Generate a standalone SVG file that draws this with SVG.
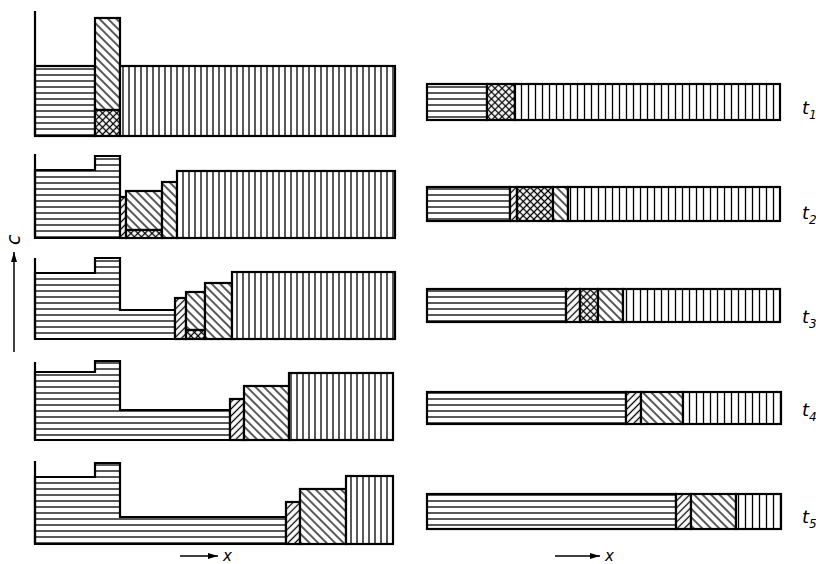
<svg xmlns="http://www.w3.org/2000/svg" width="816" height="564" viewBox="0 0 816 564">
<style>
.o{stroke:#000;stroke-width:2.2;stroke-linejoin:miter}
.h{fill:url(#hz)}.v{fill:url(#vt)}.w{fill:url(#vw)}.b{fill:url(#bs)}.f{fill:url(#fs)}.x{fill:url(#cx)}
.ax{stroke:#000;stroke-width:1.5;fill:none}
.lb{font-family:"DejaVu Sans",sans-serif;font-style:italic;fill:#000}
</style>
<defs>
<pattern id="hz" patternUnits="userSpaceOnUse" width="8" height="6"><rect width="8" height="6" fill="#fff"/><line x1="0" y1="3" x2="8" y2="3" stroke="#000" stroke-width="1.3"/></pattern>
<pattern id="vt" patternUnits="userSpaceOnUse" width="6" height="8"><rect width="6" height="8" fill="#fff"/><line x1="3" y1="0" x2="3" y2="8" stroke="#000" stroke-width="1.3"/></pattern>
<pattern id="vw" patternUnits="userSpaceOnUse" width="7" height="8"><rect width="7" height="8" fill="#fff"/><line x1="3.5" y1="0" x2="3.5" y2="8" stroke="#000" stroke-width="1.3"/></pattern>
<pattern id="bs" patternUnits="userSpaceOnUse" width="8" height="6" patternTransform="rotate(45)"><rect width="8" height="6" fill="#fff"/><line x1="0" y1="3" x2="8" y2="3" stroke="#000" stroke-width="1.3"/></pattern>
<pattern id="fs" patternUnits="userSpaceOnUse" width="8" height="5" patternTransform="rotate(-45)"><rect width="8" height="5" fill="#fff"/><line x1="0" y1="2.5" x2="8" y2="2.5" stroke="#000" stroke-width="1.3"/></pattern>
<pattern id="cx" patternUnits="userSpaceOnUse" width="5" height="5" patternTransform="rotate(45)"><rect width="5" height="5" fill="#fff"/><line x1="0" y1="2.5" x2="5" y2="2.5" stroke="#000" stroke-width="1.3"/><line x1="2.5" y1="0" x2="2.5" y2="5" stroke="#000" stroke-width="1.3"/></pattern>
<marker id="ar" viewBox="0 0 10 6" refX="10" refY="3" markerWidth="10" markerHeight="6" markerUnits="userSpaceOnUse" orient="auto"><path d="M0,0 L10,3 L0,6 Z" fill="#000"/></marker>
</defs>

<g id="panel1">
<rect class="o h" x="35" y="66" width="60" height="70"/>
<rect class="o b" x="95" y="18" width="25" height="92"/>
<rect class="o x" x="95" y="110" width="25" height="26"/>
<rect class="o v" x="120" y="66" width="275" height="70"/>
<line class="o" x1="35" y1="11" x2="35" y2="136"/>
</g>

<g id="panel2">
<polygon class="o h" points="35,238 35,170 95,170 95,156 120,156 120,238"/>
<rect class="o f" x="120" y="197" width="6" height="41"/>
<rect class="o b" x="126" y="191" width="36" height="39"/>
<rect class="o x" x="126" y="230" width="36" height="8"/>
<rect class="o b" x="162" y="182" width="15" height="56"/>
<rect class="o v" x="177" y="171" width="218" height="67"/>
<line class="o" x1="35" y1="154" x2="35" y2="238"/>
</g>

<g id="panel3">
<polygon class="o h" points="35,339 35,273 95,273 95,258 120,258 120,310 175,310 175,339"/>
<rect class="o f" x="175" y="298" width="11" height="41"/>
<rect class="o b" x="186" y="292" width="19" height="38"/>
<rect class="o x" x="186" y="330" width="19" height="9"/>
<rect class="o b" x="205" y="283" width="27" height="56"/>
<rect class="o v" x="232" y="272" width="163" height="67"/>
<line class="o" x1="35" y1="258" x2="35" y2="339"/>
</g>

<g id="panel4">
<polygon class="o h" points="35,440 35,372 95,372 95,361 120,361 120,410 230,410 230,440"/>
<rect class="o f" x="230" y="399" width="14" height="41"/>
<rect class="o b" x="244" y="386" width="45" height="54"/>
<rect class="o v" x="289" y="373" width="104" height="67"/>
<line class="o" x1="35" y1="362" x2="35" y2="440"/>
</g>

<g id="panel5">
<polygon class="o h" points="35,544 35,477 95,477 95,463 120,463 120,517 286,517 286,544"/>
<rect class="o f" x="286" y="502" width="14" height="42"/>
<rect class="o b" x="300" y="489" width="46" height="55"/>
<rect class="o v" x="346" y="476" width="47" height="68"/>
<line class="o" x1="35" y1="461" x2="35" y2="544"/>
</g>

<g id="bar1">
<rect class="o h" x="427" y="84" width="60" height="36"/>
<rect class="o x" x="487" y="84" width="28" height="36"/>
<rect class="o w" x="515" y="84" width="265" height="36"/>
</g>
<g id="bar2">
<rect class="o h" x="427" y="187" width="83" height="34"/>
<rect class="o f" x="510" y="187" width="7" height="34"/>
<rect class="o x" x="517" y="187" width="36" height="34"/>
<rect class="o b" x="553" y="187" width="15" height="34"/>
<rect class="o w" x="568" y="187" width="212" height="34"/>
</g>
<g id="bar3">
<rect class="o h" x="427" y="289" width="139" height="33"/>
<rect class="o f" x="566" y="289" width="14" height="33"/>
<rect class="o x" x="580" y="289" width="18" height="33"/>
<rect class="o b" x="598" y="289" width="25" height="33"/>
<rect class="o w" x="623" y="289" width="157" height="33"/>
</g>
<g id="bar4">
<rect class="o h" x="427" y="392" width="199" height="32"/>
<rect class="o f" x="626" y="392" width="15" height="32"/>
<rect class="o b" x="641" y="392" width="42" height="32"/>
<rect class="o w" x="683" y="392" width="98" height="32"/>
</g>
<g id="bar5">
<rect class="o h" x="427" y="494" width="249" height="35"/>
<rect class="o f" x="676" y="494" width="15" height="35"/>
<rect class="o b" x="691" y="494" width="45" height="35"/>
<rect class="o w" x="736" y="494" width="45" height="35"/>
</g>

<g id="labels">
<text class="lb" x="802" y="114" font-size="18">t<tspan font-size="12" dy="5">1</tspan></text>
<text class="lb" x="802" y="219" font-size="18">t<tspan font-size="12" dy="5">2</tspan></text>
<text class="lb" x="802" y="323" font-size="18">t<tspan font-size="12" dy="5">3</tspan></text>
<text class="lb" x="802" y="416" font-size="18">t<tspan font-size="12" dy="5">4</tspan></text>
<text class="lb" x="802" y="523" font-size="18">t<tspan font-size="12" dy="5">5</tspan></text>
</g>

<g id="connectors">
<line class="ax" x1="14" y1="352" x2="14" y2="252" marker-end="url(#ar)"/>
<line class="ax" x1="180" y1="556" x2="218" y2="556" marker-end="url(#ar)"/>
<line class="ax" x1="555" y1="556" x2="600" y2="556" marker-end="url(#ar)"/>
<text class="lb" font-size="19" transform="translate(20,245) rotate(-90)">c</text>
<text class="lb" font-size="15" x="223" y="561">x</text>
<text class="lb" font-size="15" x="605" y="561">x</text>
</g>
</svg>
